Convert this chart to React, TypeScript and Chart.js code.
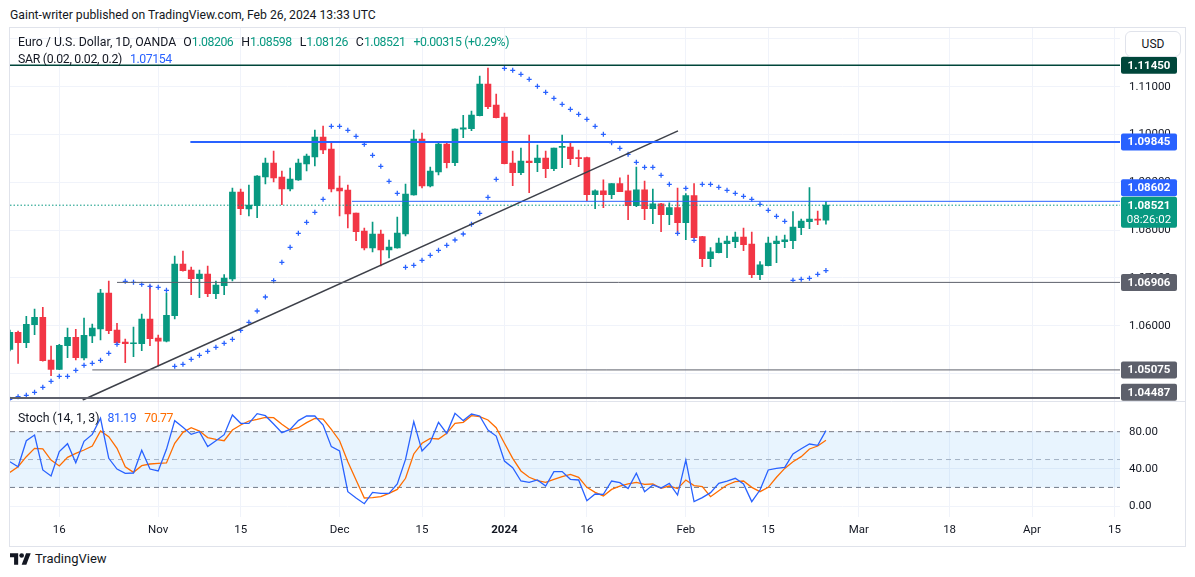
import React, { useEffect, useRef } from "react";
import { Chart, registerables } from "chart.js";

Chart.register(...registerables);

// ---------- data ----------
const OPEN = [1.05506,1.05862,1.05644,1.06021,1.06176,1.05282,1.05088,1.05582,1.05757,1.05324,
1.05785,1.05931,1.06684,1.0591,1.05659,1.05623,1.05623,1.0614,1.05743,1.05674,
1.06209,1.07291,1.07165,1.06983,1.07082,1.0667,1.06837,1.06977,1.08797,1.08441,
1.0851,1.09111,1.09404,1.09111,1.0886,1.09048,1.09383,1.09529,1.09948,1.09697,
1.08881,1.08839,1.08358,1.07981,1.07626,1.07918,1.07584,1.07626,1.07918,1.08734,
1.09906,1.08923,1.09215,1.09801,1.0941,1.10109,1.10121,1.10393,1.11056,1.10617,
1.10366,1.09404,1.09201,1.09446,1.0941,1.09508,1.09285,1.09732,1.09739,1.09515,
1.09515,1.0874,1.08824,1.0874,1.08971,1.08824,1.0851,1.08845,1.08448,1.08552,
1.08322,1.08469,1.08155,1.0872,1.07862,1.07402,1.07527,1.07715,1.07757,1.07856,
1.07709,1.07067,1.07255,1.07715,1.07757,1.07778,1.0805,1.08176,1.08232,1.08206];

const HIGH = [1.0591,1.05889,1.06197,1.06349,1.06385,1.05575,1.05611,1.05952,1.05925,1.06161,
1.06036,1.06762,1.06935,1.0605,1.05722,1.05973,1.06245,1.06845,1.05805,1.06684,
1.07458,1.07563,1.07228,1.07165,1.07249,1.06935,1.07067,1.08881,1.0886,1.08944,
1.0914,1.09508,1.09655,1.09236,1.09299,1.09487,1.09592,1.10094,1.10178,1.09843,
1.09132,1.08944,1.08358,1.08044,1.0817,1.08002,1.07793,1.08274,1.08964,1.10094,
1.10031,1.0932,1.09843,1.09843,1.1012,1.10402,1.10492,1.11224,1.11391,1.10847,
1.1045,1.09655,1.09718,1.0999,1.0978,1.09655,1.09718,1.0999,1.09843,1.09676,
1.09529,1.08845,1.09054,1.08971,1.09096,1.09153,1.0932,1.09027,1.0886,1.0856,
1.08573,1.08881,1.08762,1.08971,1.0787,1.07632,1.07835,1.07877,1.0796,1.08044,
1.0796,1.07339,1.07856,1.07877,1.07898,1.08385,1.08232,1.08887,1.084,1.08598];

const LOW = [1.05471,1.05213,1.0554,1.05812,1.0526,1.04954,1.0508,1.05331,1.05282,1.05282,
1.05644,1.05701,1.05833,1.0563,1.05226,1.05351,1.05477,1.05582,1.05157,1.0566,
1.0614,1.0714,1.06649,1.06586,1.06607,1.06565,1.06649,1.06935,1.08322,1.08295,
1.08259,1.08964,1.09006,1.08531,1.08818,1.0904,1.09236,1.09341,1.09598,1.08797,
1.08295,1.08044,1.07778,1.07584,1.07542,1.07249,1.07416,1.0762,1.07877,1.0873,
1.08881,1.08902,1.09153,1.09299,1.09347,1.09933,1.1008,1.10387,1.1054,1.10345,
1.09383,1.08929,1.09159,1.08782,1.09222,1.09096,1.09243,1.09305,1.09368,1.09326,
1.08615,1.08448,1.08469,1.08657,1.08803,1.08218,1.0849,1.08218,1.08134,1.07967,
1.08113,1.07925,1.07799,1.0783,1.07234,1.07234,1.0752,1.07423,1.07632,1.07569,
1.07004,1.06962,1.0725,1.07318,1.07632,1.07611,1.07904,1.08029,1.08113,1.08126];

const CLOSE = [1.05862,1.05644,1.06029,1.06176,1.05268,1.05088,1.0559,1.05757,1.05331,1.05799,
1.05952,1.06684,1.05895,1.05644,1.05623,1.05638,1.0614,1.05728,1.05674,1.06218,
1.07291,1.07151,1.06983,1.07082,1.0667,1.06851,1.06998,1.08797,1.08448,1.08525,
1.09132,1.09404,1.0909,1.0886,1.09069,1.09404,1.0955,1.09948,1.09676,1.0886,
1.08818,1.08337,1.07967,1.07626,1.07918,1.07584,1.07646,1.07939,1.08755,1.09906,
1.08923,1.09236,1.09801,1.0941,1.10115,1.10142,1.10408,1.11056,1.10582,1.10351,
1.09389,1.09201,1.09446,1.0941,1.09508,1.09285,1.09718,1.09745,1.09494,1.09494,
1.0874,1.08824,1.0874,1.08971,1.08803,1.0851,1.08845,1.08448,1.08552,1.08322,
1.08469,1.08155,1.0872,1.07841,1.07402,1.07548,1.0773,1.07772,1.07856,1.07695,
1.07067,1.07276,1.0773,1.07772,1.07799,1.08065,1.0819,1.08232,1.08206,1.08521];

const SAR = [1.0446,1.04515,1.04544,1.04607,1.04711,1.04837,1.04941,1.04941,1.05067,1.05172,
1.05213,1.05276,1.05423,1.05611,1.06929,1.06908,1.06866,1.06824,1.06803,1.06741,
1.05151,1.05192,1.05297,1.05381,1.05464,1.05548,1.05632,1.05715,1.05904,1.06071,
1.06308,1.066,1.06941,1.07326,1.0764,1.07933,1.08163,1.08372,1.08644,1.10172,
1.10172,1.10088,1.09962,1.09795,1.09565,1.09335,1.09021,1.0877,1.07222,1.07264,
1.07368,1.07473,1.07577,1.07682,1.07793,1.07918,1.08121,1.08351,1.08686,1.09063,
1.11385,1.11343,1.11259,1.11155,1.11008,1.10883,1.10757,1.10632,1.10527,1.10423,
1.10318,1.10172,1.10004,1.09828,1.09711,1.09586,1.09418,1.09314,1.09314,1.09146,
1.08958,1.07933,1.08874,1.07787,1.08958,1.08958,1.08895,1.08833,1.0877,1.08707,
1.08644,1.0854,1.08414,1.08289,1.08184,1.0695,1.06971,1.06992,1.07075,1.07154];

const STOCH_K = [47.7,42.3,70.3,76.4,38.8,32.3,58.5,67.1,46.6,69.6,
77.1,94.4,51.3,39.8,35.2,35.5,59.9,39.8,37.7,61,
91.9,84.7,77.1,80,63.9,70.3,76.8,98,89,89,
99.4,97.2,88.3,78.9,82.5,91.9,96.9,96.9,87.2,63.9,
59.2,15.4,8.6,2.5,14.7,13.6,13.6,23.7,50.2,90.8,
59.2,68.5,90.1,78.2,99.7,91.9,99,96.9,81.8,75.3,
48.4,41.3,26.9,25.5,28,21.5,37,37,28.7,28,
5.7,12.9,12.6,26.9,25.1,18.7,35.2,15.4,22.6,19.4,
24.4,11.8,49.5,4.7,9,14.4,24.4,26.9,29.8,23.7,
4.7,17.2,38.8,40.5,41.6,56,61.7,66.7,65.3,81.19];

const STOCH_D = [36.2,42.3,53.1,62.1,61.4,49.5,43.1,52.4,56.7,60.3,
64.6,80.7,74.6,62.1,42.3,36.2,43.4,45.2,45.9,46.3,
67.5,79.3,84.3,80.7,73.6,71.8,70.3,81.8,87.2,91.5,
93.3,95.4,95.1,87.9,81.8,84.3,89.7,94.4,93.6,82.5,
70.3,47.7,28,8.6,9,10,13.6,17.9,29.8,56,
67.5,72.8,72.1,78.2,89,90.1,97.2,96.2,92.6,84.3,
67.5,51.3,37.7,30.9,27.3,25.5,28.7,31.6,34.1,30.9,
20.1,14.7,10.8,17.9,21.5,23.7,25.5,23.3,23.7,19,
21.5,18.7,28,21.9,20.8,10,16.5,22.6,26.2,26.9,
20.1,15.4,20.1,30.9,40.5,47.7,53.1,61.4,64.6,70.77];

// time axis: bar index of each labelled date and its text
const X_TICKS = [6, 18, 28, 40, 50, 60, 70, 82, 92, 103, 114, 124, 134];
const X_TICK_LABELS = ["16", "Nov", "15", "Dec", "15", "2024", "16", "Feb", "15", "Mar", "18", "Apr", "15"];
const PRICE_TICKS = [1.05, 1.06, 1.07, 1.08, 1.09, 1.1, 1.11, 1.12];
const STOCH_TICKS = [0, 40, 80];
const STOCH_BANDS = [80, 50, 20];

// horizontal drawings: price and starting bar
const LEVEL_PRICES = [1.1145, 1.09845, 1.08602, 1.06906, 1.05075, 1.04487];
const LEVEL_FROM = [0, 21.9, 41.5, 13, 10, 0];
// trend line anchors (bar index, price)
const TREND_X = [8.84, 81.05];
const TREND_Y = [1.04446, 1.10077];
const COUNTDOWN = "08:26:02";

// ---------- styles ----------
const FONT = "Roboto, 'Noto Sans', Arial, sans-serif";
const UP = "#089981";
const DOWN = "#f23645";
const BLUE = "#2962ff";
const ORANGE = "#ff6d00";
const TEXT = "#131722";
const GRID = "#f0f3fa";
const LEVEL_STYLE = [
  { color: "#00463a", width: 1.5 },
  { color: "#2962ff", width: 2 },
  { color: "#2962ff", width: 1 },
  { color: "#5d606b", width: 1 },
  { color: "#5d606b", width: 1 },
  { color: "#5d606b", width: 2 },
];
const X_MIN = 0.02;
const X_MAX = 134.67;

const LAST = CLOSE.length - 1;
const LAST_PRICE = CLOSE[LAST];
const CHANGE = CLOSE[LAST] - CLOSE[LAST - 1];
const CHANGE_PCT = (CHANGE / CLOSE[LAST - 1]) * 100;

function roundRect(ctx: CanvasRenderingContext2D, x: number, y: number, w: number, h: number, r: number) {
  ctx.beginPath();
  ctx.moveTo(x + r, y);
  ctx.lineTo(x + w - r, y);
  ctx.quadraticCurveTo(x + w, y, x + w, y + r);
  ctx.lineTo(x + w, y + h - r);
  ctx.quadraticCurveTo(x + w, y + h, x + w - r, y + h);
  ctx.lineTo(x + r, y + h);
  ctx.quadraticCurveTo(x, y + h, x, y + h - r);
  ctx.lineTo(x, y + r);
  ctx.quadraticCurveTo(x, y, x + r, y);
  ctx.closePath();
}

const axisLabelsPlugin = {
  id: "axisLabels",
  afterDraw(chart: any) {
    const ctx: CanvasRenderingContext2D = chart.ctx;
    const ys = chart.scales.y;
    const y2 = chart.scales.y2;
    const area = chart.chartArea;
    const bx = area.right + 1;
    const bw = 56;
    const bh = 17;
    const curY = ys.getPixelForValue(LAST_PRICE);
    const curTop = curY - 8.5;
    const curH = 31;
    ctx.save();
    // pane separator
    ctx.strokeStyle = "#e0e3eb";
    ctx.lineWidth = 1;
    ctx.beginPath();
    ctx.moveTo(0, Math.round(y2.top) + 0.5);
    ctx.lineTo(chart.width, Math.round(y2.top) + 0.5);
    ctx.stroke();

    ctx.textAlign = "center";
    ctx.textBaseline = "middle";
    LEVEL_PRICES.forEach((p, k) => {
      const y = ys.getPixelForValue(p);
      let top = y - bh / 2;
      if (top + bh > curTop && top < curTop + curH) top = curTop - bh - 0.5;
      top = Math.min(top, ys.bottom - bh);
      ctx.fillStyle = LEVEL_STYLE[k].color;
      roundRect(ctx, bx, top, bw, bh, 2);
      ctx.fill();
      ctx.fillStyle = "#ffffff";
      ctx.font = `bold 11.5px ${FONT}`;
      ctx.fillText(p.toFixed(5), bx + bw / 2, top + bh / 2 + 0.5);
    });
    ctx.fillStyle = UP;
    roundRect(ctx, bx, curTop, bw, curH, 2);
    ctx.fill();
    ctx.fillStyle = "#ffffff";
    ctx.font = `bold 11.5px ${FONT}`;
    ctx.fillText(LAST_PRICE.toFixed(5), bx + bw / 2, curY + 0.5);
    ctx.font = `11.5px ${FONT}`;
    ctx.fillText(COUNTDOWN, bx + bw / 2, curY + 15);
    ctx.restore();
  },
};

function hline(value: number, from: number, color: string, width: number, dash: number[] = [], axis = "y", order = 1) {
  return {
    type: "line" as const,
    yAxisID: axis,
    data: [
      { x: from, y: value },
      { x: X_MAX, y: value },
    ],
    borderColor: color,
    borderWidth: width,
    borderDash: dash,
    pointRadius: 0,
    tension: 0,
    order,
  };
}

function fitY(s: any) {
  s.width = 65;
  s.paddingTop = 0;
  s.paddingBottom = 0;
}

export default function App() {
  const ref = useRef<HTMLCanvasElement>(null);

  useEffect(() => {
    const idx = OPEN.map((_, i) => i);
    const colors = idx.map((i) => (CLOSE[i] >= OPEN[i] ? UP : DOWN));
    const tickFont = { size: 11.5, family: FONT };

    const datasets: any[] = [];
    LEVEL_PRICES.forEach((p, k) => {
      datasets.push(hline(p, LEVEL_FROM[k] === 0 ? X_MIN : LEVEL_FROM[k], LEVEL_STYLE[k].color, LEVEL_STYLE[k].width));
    });
    datasets.push(hline(LAST_PRICE, X_MIN, UP, 1, [1.5, 2]));
    datasets.push({
      type: "line",
      yAxisID: "y",
      data: TREND_X.map((x, k) => ({ x, y: TREND_Y[k] })),
      borderColor: "#3d4049",
      borderWidth: 1.5,
      pointRadius: 0,
      order: 1,
    });
    datasets.push({
      type: "line",
      yAxisID: "y",
      data: idx.map((i) => ({ x: i, y: SAR[i] })),
      showLine: false,
      pointStyle: "cross",
      pointRadius: 2.5,
      pointBorderColor: BLUE,
      pointBorderWidth: 1.3,
      pointBackgroundColor: BLUE,
      order: 2,
    });
    datasets.push({
      type: "bar",
      yAxisID: "y",
      data: idx.map((i) => ({ x: i, y: [LOW[i], HIGH[i]] })),
      backgroundColor: colors,
      barThickness: 1,
      grouped: false,
      order: 4,
    });
    datasets.push({
      type: "bar",
      yAxisID: "y",
      data: idx.map((i) => ({ x: i, y: [OPEN[i], CLOSE[i]] })),
      backgroundColor: colors,
      barThickness: 6,
      minBarLength: 1,
      grouped: false,
      order: 3,
    });
    const band80 = hline(STOCH_BANDS[0], X_MIN, "#787b86", 1, [5, 4], "y2", 9) as any;
    band80.fill = { target: "+1" };
    band80.backgroundColor = "rgba(33,150,243,0.1)";
    datasets.push(band80);
    datasets.push(hline(STOCH_BANDS[2], X_MIN, "#787b86", 1, [5, 4], "y2", 9));
    datasets.push(hline(STOCH_BANDS[1], X_MIN, "#b2b5be", 1, [5, 4], "y2", 9));
    datasets.push({
      type: "line",
      yAxisID: "y2",
      data: idx.map((i) => ({ x: i, y: STOCH_K[i] })),
      borderColor: BLUE,
      borderWidth: 1.3,
      pointRadius: 0,
      tension: 0,
      order: 1,
    });
    datasets.push({
      type: "line",
      yAxisID: "y2",
      data: idx.map((i) => ({ x: i, y: STOCH_D[i] })),
      borderColor: ORANGE,
      borderWidth: 1.3,
      pointRadius: 0,
      tension: 0,
      order: 1,
    });

    const chart = new Chart(ref.current as HTMLCanvasElement, {
      type: "line",
      data: { datasets },
      options: {
        animation: false,
        responsive: false,
        events: [],
        layout: { padding: 0, autoPadding: false },
        plugins: { legend: { display: false }, tooltip: { enabled: false } },
        scales: {
          x: {
            type: "linear",
            min: X_MIN,
            max: X_MAX,
            offset: false,
            afterBuildTicks: (s: any) => {
              s.ticks = X_TICKS.map((v) => ({ value: v }));
            },
            afterFit: (s: any) => {
              s.height = 29;
              s.paddingLeft = 0;
              s.paddingRight = 0;
            },
            ticks: {
              autoSkip: false,
              maxRotation: 0,
              minRotation: 0,
              padding: 6,
              color: TEXT,
              callback: (_v: any, i: number) => X_TICK_LABELS[i],
              font: (c: any) => ({
                size: 11.5,
                family: FONT,
                weight: c.tick && c.tick.label === "2024" ? "bold" : "normal",
              }),
            },
            grid: { color: GRID, drawTicks: false, offset: false },
            border: { display: false },
          },
          y: {
            type: "linear",
            position: "right",
            stack: "panes",
            stackWeight: 372.7,
            min: 1.04431,
            max: 1.12228,
            afterBuildTicks: (s: any) => {
              s.ticks = PRICE_TICKS.map((v) => ({ value: v }));
            },
            afterFit: fitY,
            ticks: {
              padding: 9,
              color: TEXT,
              font: tickFont,
              callback: (v: any) => Number(v).toFixed(5),
            },
            grid: { color: GRID, drawTicks: false },
            border: { display: false },
          },
          y2: {
            type: "linear",
            position: "right",
            stack: "panes",
            stackWeight: 116.3,
            min: -11.84,
            max: 113.35,
            afterBuildTicks: (s: any) => {
              s.ticks = STOCH_TICKS.map((v) => ({ value: v }));
            },
            afterFit: fitY,
            ticks: {
              padding: 9,
              color: TEXT,
              font: tickFont,
              callback: (v: any) => Number(v).toFixed(2),
            },
            grid: { color: GRID, drawTicks: false },
            border: { display: false },
          },
        },
      } as any,
      plugins: [axisLabelsPlugin],
    } as any);
    return () => chart.destroy();
  }, []);

  const legendRow: React.CSSProperties = {
    position: "absolute",
    left: 18,
    display: "flex",
    alignItems: "center",
    fontSize: 12.3,
    lineHeight: "16px",
    whiteSpace: "nowrap",
    color: TEXT,
  };
  const gap = { marginLeft: 8 };
  const num: React.CSSProperties = { letterSpacing: -0.45 };

  return (
    <div
      style={{
        position: "fixed",
        left: 0,
        top: 0,
        width: 1195,
        height: 577,
        background: "#ffffff",
        fontFamily: FONT,
        color: TEXT,
        overflow: "hidden",
      }}
    >
      <div style={{ position: "absolute", left: 10, top: 7, fontSize: 12.2, lineHeight: "16px", whiteSpace: "nowrap" }}>
        Gaint-writer published on TradingView.com, Feb 26, 2024 13:33 UTC
      </div>
      <div
        style={{
          position: "absolute",
          left: 9,
          top: 27,
          width: 1175,
          height: 518,
          border: "1px solid #e0e3eb",
        }}
      />
      <canvas
        ref={ref}
        width={1175}
        height={518}
        style={{ position: "absolute", left: 10, top: 28, width: 1175, height: 518 }}
      />
      <div style={{ ...legendRow, top: 34 }}>
        <span>Euro / U.S. Dollar, 1D, OANDA</span>
        <span style={{ marginLeft: 7 }}>
          O<span style={{ ...num, color: UP }}>{OPEN[LAST].toFixed(5)}</span>
        </span>
        <span style={gap}>
          H<span style={{ ...num, color: UP }}>{HIGH[LAST].toFixed(5)}</span>
        </span>
        <span style={gap}>
          L<span style={{ ...num, color: UP }}>{LOW[LAST].toFixed(5)}</span>
        </span>
        <span style={gap}>
          C<span style={{ ...num, color: UP }}>{CLOSE[LAST].toFixed(5)}</span>
        </span>
        <span style={{ ...gap, ...num, color: UP }}>
          {(CHANGE >= 0 ? "+" : "") + CHANGE.toFixed(5)} ({(CHANGE_PCT >= 0 ? "+" : "") + CHANGE_PCT.toFixed(2)}%)
        </span>
      </div>
      <div style={{ ...legendRow, top: 51 }}>
        <span style={{ letterSpacing: -0.3 }}>SAR (0.02, 0.02, 0.2)</span>
        <span style={{ ...gap, ...num, color: BLUE }}>{SAR[LAST].toFixed(5)}</span>
      </div>
      <div style={{ ...legendRow, top: 410 }}>
        <span>Stoch (14, 1, 3)</span>
        <span style={{ ...gap, ...num, color: BLUE }}>{STOCH_K[LAST].toFixed(2)}</span>
        <span style={{ ...gap, ...num, color: ORANGE }}>{STOCH_D[LAST].toFixed(2)}</span>
      </div>
      <div
        style={{
          position: "absolute",
          left: 1125,
          top: 31,
          width: 54,
          height: 24,
          border: "1px solid #e0e3eb",
          borderRadius: 6,
          background: "#ffffff",
          fontSize: 12,
          lineHeight: "24px",
          textAlign: "center",
        }}
      >
        USD
      </div>
      <div
        style={{
          position: "absolute",
          left: 10,
          top: 551,
          display: "flex",
          alignItems: "center",
          fontSize: 13,
          lineHeight: "16px",
          color: TEXT,
        }}
      >
        <svg width="21" height="12" viewBox="0 0 36 20" style={{ marginRight: 4 }}>
          <path d="M14 20H7V7H0V0h14v20z" fill="#131722" />
          <circle cx="20" cy="4" r="4" fill="#131722" />
          <path d="M28 20h-8l7.5-20h8L28 20z" fill="#131722" />
        </svg>
        <span>TradingView</span>
      </div>
    </div>
  );
}
